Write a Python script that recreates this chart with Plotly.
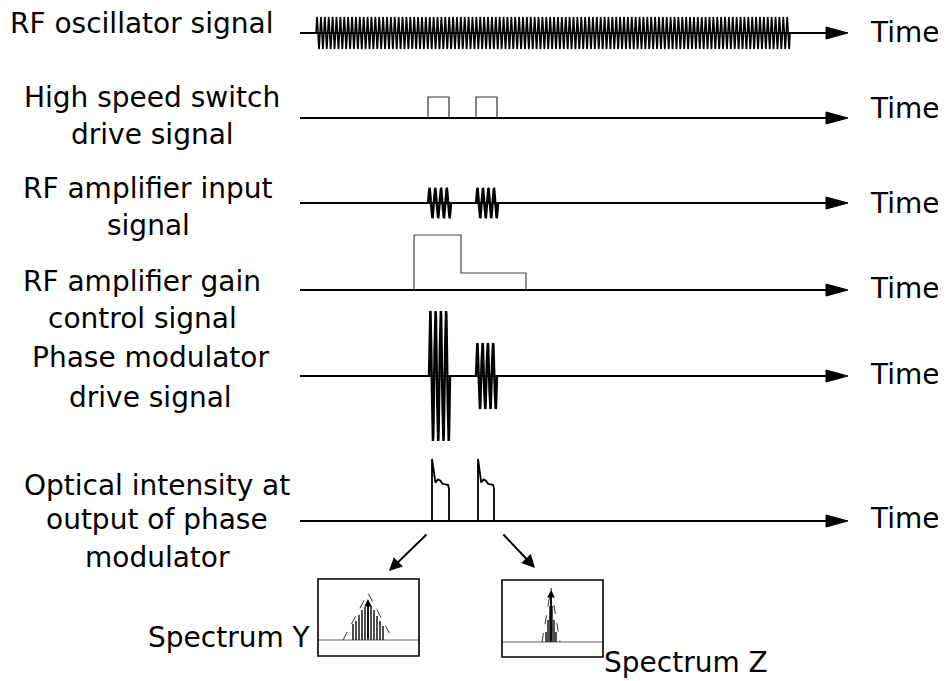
import numpy as np
import plotly.graph_objects as go

# ---- signal data (time in px-like units along the common time axis) ----
row_labels = [
    ["RF oscillator signal"],
    ["High speed switch", "drive signal"],
    ["RF amplifier input", "signal"],
    ["RF amplifier gain", "control signal"],
    ["Phase modulator", "drive signal"],
    ["Optical intensity at", "output of phase", "modulator"],
]
axis_label = "Time"

osc_window = [316, 790]
osc_cycles = 122
osc_amplitude = 16

switch_on = [428, 476]
switch_off = [449, 497]
switch_level = [21, 21]

rf_in_on = [428, 476]
rf_in_off = [451, 498]
rf_in_amplitude = [15, 15]
burst_cycles = 4

gain_times = [414, 461, 526]
gain_levels = [55, 17]

pm_on = [429, 476]
pm_off = [450, 497]
pm_amplitude = [65, 33]

opt_on = [432, 478]
opt_off = [449, 494]
opt_peak = [62, 62]
opt_shape_t = [0, 0, 0.03, 0.2, 0.35, 0.5, 0.62, 0.8, 0.95, 1.0, 1.0]
opt_shape_v = [0, 1.0, 0.95, 0.62, 0.67, 0.65, 0.6, 0.59, 0.58, 0.52, 0]

specY_offsets = [-15, -12, -9, -6, -3, 0, 3, 6, 9, 12, 15]
specY_heights = [16, 19, 25, 30, 33, 39, 34, 30, 24, 19, 14]
specY_env = [25, 47]      # half width, peak
specZ_offsets = [-5, -3, -1, 0, 1, 3, 5]
specZ_heights = [10, 22, 36, 50, 36, 22, 10]
specZ_env = [9, 54]

# ---- layout positions ----
W, H = 946, 681
PAD = 8   # page body margin, compensated in the axis ranges
row_base = [33, 118, 203, 290, 376, 521]
time_label_y = [32, 108, 203, 288, 374, 518]
axis_start, axis_tip = 300, 848
label_x = [None, 152, 148, 142, 150, 157]
label_y = [[23], [97, 134], [188, 225], [281, 318], [357, 397], [485, 519, 557]]
FONT = "DejaVu Sans, sans-serif"
FS = 28


def burst(t0, t1, cycles, amp, yb, per_cycle=40):
    t = np.linspace(t0, t1, int(cycles * per_cycle) + 1)
    y = yb - amp * np.sin(2 * np.pi * cycles * (t - t0) / (t1 - t0))
    return list(t), list(y)


fig = go.Figure()


def line(x, y, width=2, color="black", dash=None):
    fig.add_trace(go.Scatter(x=x, y=y, mode="lines", hoverinfo="skip",
                             line=dict(color=color, width=width, dash=dash),
                             showlegend=False))


# time axes with arrow heads
for yb in row_base:
    line([axis_start, axis_tip - 18], [yb, yb], width=2)
    fig.add_trace(go.Scatter(
        x=[axis_tip, axis_tip - 22, axis_tip - 22, axis_tip],
        y=[yb, yb - 6, yb + 6, yb], mode="lines", fill="toself",
        fillcolor="black", line=dict(color="black", width=1),
        hoverinfo="skip", showlegend=False))

# RF oscillator
x, y = burst(osc_window[0], osc_window[1], osc_cycles, osc_amplitude, row_base[0], per_cycle=16)
line(x, y, width=1.6)

# switch drive pulses
for t0, t1, h in zip(switch_on, switch_off, switch_level):
    yb = row_base[1]
    line([t0, t0, t1, t1], [yb, yb - h, yb - h, yb], width=1.2, color="#333")

# RF amplifier input bursts
for t0, t1, a in zip(rf_in_on, rf_in_off, rf_in_amplitude):
    x, y = burst(t0, t1, burst_cycles, a, row_base[2])
    line(x, y, width=2.4)

# gain control
yb = row_base[3]
gx = [gain_times[0], gain_times[0], gain_times[1], gain_times[1], gain_times[2], gain_times[2]]
gy = [yb, yb - gain_levels[0], yb - gain_levels[0], yb - gain_levels[1], yb - gain_levels[1], yb]
line(gx, gy, width=1.2, color="#444")

# phase modulator drive
for t0, t1, a in zip(pm_on, pm_off, pm_amplitude):
    x, y = burst(t0, t1, burst_cycles, a, row_base[4])
    line(x, y, width=2.4)

# optical intensity
for t0, t1, p in zip(opt_on, opt_off, opt_peak):
    x = [t0 + f * (t1 - t0) for f in opt_shape_t]
    y = [row_base[5] - v * p for v in opt_shape_v]
    line(x, y, width=1.8)

# spectra boxes
boxes = [(318, 419, 579, 656, 640, 368, specY_offsets, specY_heights, specY_env),
         (502, 603, 580, 657, 642, 551, specZ_offsets, specZ_heights, specZ_env)]
for x0, x1, y0, y1, ybl, xc, offs, hts, env in boxes:
    fig.add_shape(type="rect", x0=x0, x1=x1, y0=y0, y1=y1,
                  line=dict(color="black", width=1.6))
    line([x0, x1], [ybl, ybl], width=1, color="#666")
    bx, by = [], []
    for o, h in zip(offs, hts):
        bx += [xc + o, xc + o, None]
        by += [ybl, ybl - h, None]
    line(bx, by, width=1.6, color="#222")
    line([xc - env[0], xc, xc + env[0]], [ybl, ybl - env[1], ybl], width=1, color="#333", dash="dash")
    fig.add_annotation(x=xc, y=ybl - max(hts) - 2, ax=xc, ay=ybl, xref="x", yref="y",
                       axref="x", ayref="y", showarrow=True, arrowhead=2,
                       arrowsize=1, arrowwidth=1.5, arrowcolor="black", text="")

# arrows from pulses to spectra
for tip, tail in [((389, 571), (428, 533)), ((535, 568), (502, 533))]:
    fig.add_annotation(x=tip[0], y=tip[1], ax=tail[0], ay=tail[1], xref="x", yref="y",
                       axref="x", ayref="y", showarrow=True, arrowhead=2,
                       arrowsize=1.3, arrowwidth=2, arrowcolor="black", text="")

# labels
for i, lines in enumerate(row_labels):
    for txt, ty in zip(lines, label_y[i]):
        if label_x[i] is None:
            fig.add_annotation(x=8, y=ty, text=txt, showarrow=False, xanchor="left",
                               yanchor="middle", font=dict(family=FONT, size=FS, color="black"))
        else:
            fig.add_annotation(x=label_x[i], y=ty, text=txt, showarrow=False, xanchor="center",
                               yanchor="middle", font=dict(family=FONT, size=FS, color="black"))
    fig.add_annotation(x=868, y=time_label_y[i], text=axis_label, showarrow=False, xanchor="left",
                       yanchor="middle", font=dict(family=FONT, size=FS, color="black"))

fig.add_annotation(x=229, y=637, text="Spectrum Y", showarrow=False, xanchor="center",
                   yanchor="middle", font=dict(family=FONT, size=FS, color="black"))
fig.add_annotation(x=686, y=662, text="Spectrum Z", showarrow=False, xanchor="center",
                   yanchor="middle", font=dict(family=FONT, size=FS, color="black"))

fig.update_xaxes(range=[PAD, W], visible=False, fixedrange=True)
fig.update_yaxes(range=[H, PAD], visible=False, fixedrange=True)
fig.update_layout(width=W - PAD, height=H - PAD, margin=dict(l=0, r=0, t=0, b=0),
                  paper_bgcolor="white", plot_bgcolor="white", showlegend=False)

fig.write_html("out.html")
